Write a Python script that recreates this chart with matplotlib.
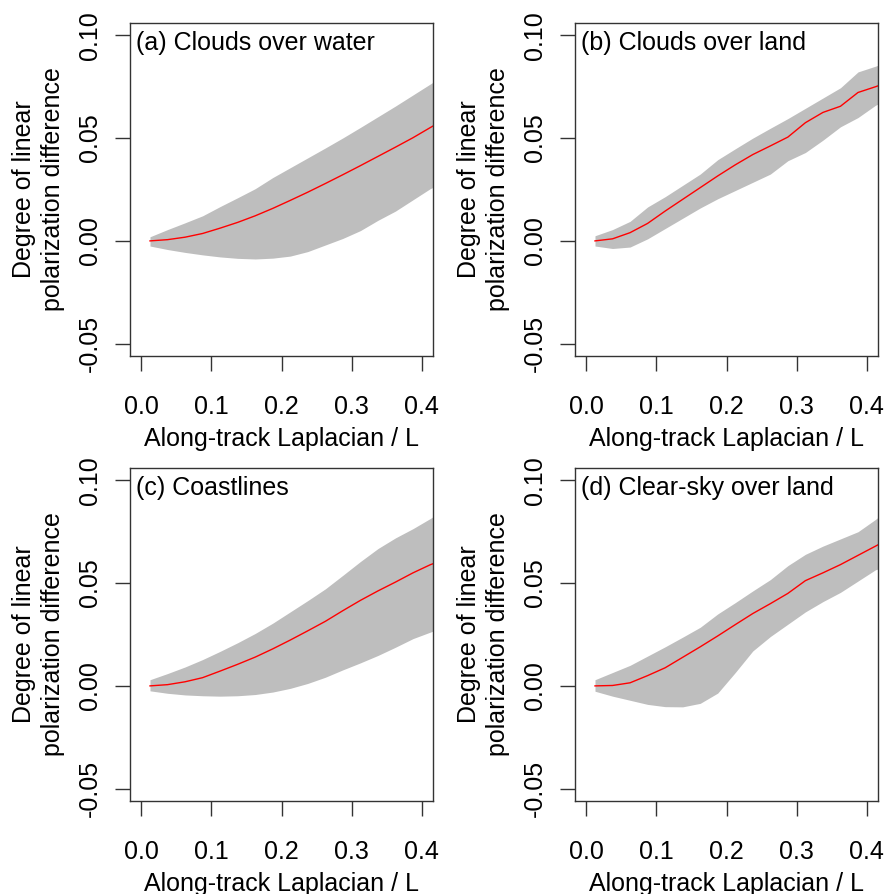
import numpy as np
import matplotlib
matplotlib.use('Agg')
import matplotlib.pyplot as plt

plt.rcParams['font.family'] = ['Liberation Sans', 'DejaVu Sans']

# bin centres along the Laplacian axis
x = [0.0125, 0.0375, 0.0625, 0.0875, 0.1125, 0.1375, 0.1625, 0.1875, 0.2125,
     0.2375, 0.2625, 0.2875, 0.3125, 0.3375, 0.3625, 0.3875, 0.4125, 0.4375]

# (a) clouds over water
a_mean = [0.0000, 0.0006, 0.0018, 0.0036, 0.0062, 0.0090, 0.0122, 0.0158, 0.0197,
          0.0237, 0.0279, 0.0322, 0.0366, 0.0411, 0.0456, 0.0502, 0.0552, 0.0600]
a_hi = [0.0020, 0.0055, 0.0088, 0.0122, 0.0167, 0.0210, 0.0254, 0.0308, 0.0356,
        0.0404, 0.0452, 0.0501, 0.0552, 0.0604, 0.0656, 0.0710, 0.0764, 0.0818]
a_lo = [-0.0025, -0.0042, -0.0056, -0.0068, -0.0078, -0.0085, -0.0088, -0.0084, -0.0074,
        -0.0052, -0.0020, 0.0012, 0.0050, 0.0100, 0.0145, 0.0200, 0.0255, 0.0290]

# (b) clouds over land
b_mean = [0.0000, 0.0010, 0.0040, 0.0085, 0.0145, 0.0202, 0.0259, 0.0316, 0.0370,
          0.0420, 0.0462, 0.0505, 0.0575, 0.0625, 0.0655, 0.0722, 0.0750, 0.0780]
b_hi = [0.0025, 0.0055, 0.0095, 0.0165, 0.0215, 0.0270, 0.0325, 0.0395, 0.0448,
        0.0500, 0.0548, 0.0595, 0.0645, 0.0695, 0.0745, 0.0822, 0.0850, 0.0880]
b_lo = [-0.0025, -0.0037, -0.0030, 0.0010, 0.0060, 0.0110, 0.0160, 0.0205, 0.0245,
        0.0285, 0.0325, 0.0390, 0.0430, 0.0490, 0.0555, 0.0600, 0.0660, 0.0700]

# (c) coastlines
c_mean = [0.0000, 0.0006, 0.0020, 0.0040, 0.0072, 0.0105, 0.0140, 0.0180, 0.0223,
          0.0268, 0.0314, 0.0366, 0.0416, 0.0462, 0.0505, 0.0550, 0.0590, 0.0620]
c_hi = [0.0030, 0.0060, 0.0092, 0.0128, 0.0168, 0.0210, 0.0255, 0.0305, 0.0360,
        0.0415, 0.0472, 0.0538, 0.0605, 0.0668, 0.0720, 0.0765, 0.0815, 0.0870]
c_lo = [-0.0024, -0.0036, -0.0044, -0.0048, -0.0050, -0.0048, -0.0042, -0.0030, -0.0012,
        0.0012, 0.0042, 0.0078, 0.0112, 0.0148, 0.0188, 0.0230, 0.0262, 0.0290]

# (d) clear-sky over land
d_mean = [0.0000, 0.0002, 0.0015, 0.0050, 0.0088, 0.0139, 0.0190, 0.0243, 0.0298,
          0.0352, 0.0400, 0.0450, 0.0512, 0.0550, 0.0590, 0.0635, 0.0680, 0.0725]
d_hi = [0.0030, 0.0065, 0.0100, 0.0145, 0.0190, 0.0237, 0.0285, 0.0350, 0.0405,
        0.0462, 0.0517, 0.0585, 0.0640, 0.0680, 0.0715, 0.0750, 0.0810, 0.0880]
d_lo = [-0.0026, -0.0050, -0.0070, -0.0090, -0.0101, -0.0102, -0.0085, -0.0035, 0.0065,
        0.0170, 0.0240, 0.0300, 0.0360, 0.0410, 0.0455, 0.0510, 0.0565, 0.0590]

titles = ["(a) Clouds over water", "(b) Clouds over land",
          "(c) Coastlines", "(d) Clear-sky over land"]
xticks = [0.0, 0.1, 0.2, 0.3, 0.4]
yticks = [-0.05, 0.0, 0.05, 0.10]

panels = [(a_mean, a_lo, a_hi), (b_mean, b_lo, b_hi),
          (c_mean, c_lo, c_hi), (d_mean, d_lo, d_hi)]

W, H = 885, 894
boxes = [(130, 23), (575, 23), (130, 468), (575, 468)]   # left, top in pixels
bw, bh = 303, 333
fs = 18
edge = '#333333'

fig = plt.figure(figsize=(W / 100, H / 100), dpi=100)
for (mean, lo, hi), title, (l, t) in zip(panels, titles, boxes):
    ax = fig.add_axes([l / W, 1 - (t + bh) / H, bw / W, bh / H])
    ax.fill_between(x, lo, hi, color='#bebebe', lw=0)
    ax.plot(x, mean, color='red', lw=1.0)
    ax.set_xlim(-0.016, 0.416)
    ax.set_ylim(-0.056, 0.106)
    for s in ax.spines.values():
        s.set_color(edge)
        s.set_linewidth(1.0)
    ax.set_xticks(xticks)
    ax.set_xticklabels(['%.1f' % v for v in xticks])
    ax.set_yticks(yticks)
    ax.set_yticklabels(['%.2f' % v for v in yticks], rotation=90, va='center')
    ax.tick_params(direction='out', length=11, width=1.0, color=edge,
                   labelsize=fs)
    ax.tick_params(axis='x', pad=16.8)
    ax.tick_params(axis='y', pad=9.3)
    ax.set_xlabel("Along-track Laplacian / L", fontsize=fs, labelpad=6)
    ax.set_ylabel("Degree of linear\npolarization difference", fontsize=fs,
                  labelpad=9, linespacing=1.3)
    ax.text(0.02, 0.975, title, transform=ax.transAxes, fontsize=fs,
            ha='left', va='top')

fig.savefig('out.png', dpi=100)
